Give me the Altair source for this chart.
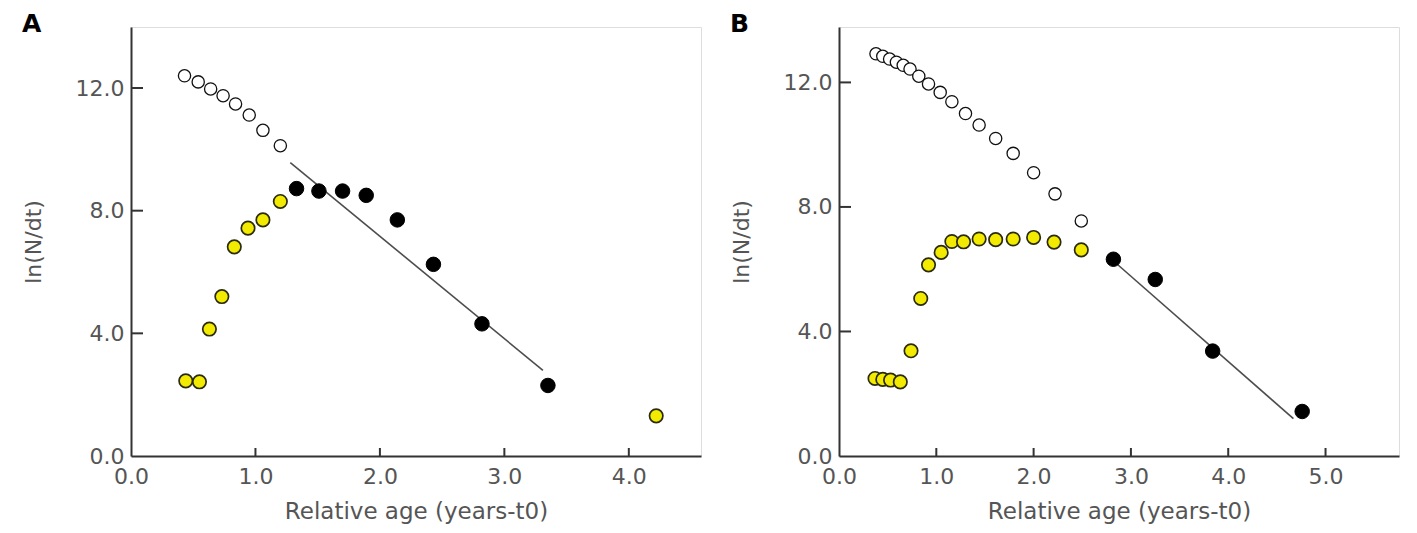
import altair as alt
import pandas as pd

# ---------------- Panel A data ----------------
a_open_x = [0.43, 0.54, 0.64, 0.74, 0.84, 0.95, 1.06, 1.20]
a_open_y = [12.40, 12.20, 11.97, 11.75, 11.48, 11.12, 10.62, 10.12]
a_yellow_x = [0.44, 0.55, 0.63, 0.73, 0.83, 0.94, 1.06, 1.20, 4.22]
a_yellow_y = [2.45, 2.42, 4.14, 5.20, 6.82, 7.43, 7.70, 8.30, 1.31]
a_black_x = [1.33, 1.51, 1.70, 1.89, 2.14, 2.43, 2.82, 3.35]
a_black_y = [8.72, 8.64, 8.64, 8.50, 7.70, 6.25, 4.31, 2.30]
a_line_x = [1.28, 3.31]
a_line_y = [9.57, 2.79]
a_xticks = [0, 1, 2, 3, 4]

# ---------------- Panel B data ----------------
b_open_x = [0.38, 0.45, 0.52, 0.59, 0.66, 0.73, 0.82, 0.92, 1.04, 1.16, 1.30,
            1.44, 1.61, 1.79, 2.00, 2.22, 2.49]
b_open_y = [12.92, 12.84, 12.75, 12.65, 12.55, 12.43, 12.20, 11.95, 11.68, 11.38,
            11.00, 10.63, 10.20, 9.72, 9.10, 8.42, 7.55]
b_yellow_x = [0.37, 0.45, 0.53, 0.63, 0.74, 0.84, 0.92, 1.05, 1.16, 1.28, 1.44,
              1.61, 1.79, 2.00, 2.21, 2.49]
b_yellow_y = [2.49, 2.46, 2.44, 2.38, 3.38, 5.06, 6.14, 6.54, 6.89, 6.88, 6.97,
              6.95, 6.97, 7.02, 6.87, 6.62]
b_black_x = [2.82, 3.25, 3.84, 4.76]
b_black_y = [6.32, 5.67, 3.37, 1.43]
b_line_x = [2.83, 4.67]
b_line_y = [6.24, 1.20]
b_xticks = [0, 1, 2, 3, 4, 5]

y_ticks = [0, 4, 8, 12]

FONT = "DejaVu Sans"
H = 429
TXT = "#555555"


def panel(label, ox, oy, yx, yy, bx, by, lx, ly, xticks, xmax, ymax, width):
    xs = alt.Scale(domain=[0, xmax], nice=False, zero=False)
    ys = alt.Scale(domain=[0, ymax], nice=False, zero=False)
    xax = alt.Axis(values=xticks, format=".1f", title="Relative age (years-t0)",
                   grid=False, ticks=False, tickSize=0, labelPadding=10,
                   labelFont=FONT, labelFontSize=22, labelColor=TXT,
                   labelFlush=False, labelOverlap=False,
                   titleFont=FONT, titleFontSize=23, titleColor=TXT,
                   titleFontWeight="normal", titlePadding=13.5,
                   domainColor="#333333", domainWidth=2)
    yax = alt.Axis(values=y_ticks, format=".1f", title="ln(N/dt)",
                   grid=False, ticks=False, tickSize=0, labelPadding=7,
                   labelFont=FONT, labelFontSize=22, labelColor=TXT,
                   labelFlush=False, labelOverlap=False,
                   titleFont=FONT, titleFontSize=22, titleColor=TXT,
                   titleFontWeight="normal", titlePadding=30,
                   domainColor="#333333", domainWidth=2)
    X = alt.X("x:Q", scale=xs, axis=xax)
    Y = alt.Y("y:Q", scale=ys, axis=yax)

    df_open = pd.DataFrame({"x": ox, "y": oy})
    df_yel = pd.DataFrame({"x": yx, "y": yy})
    df_blk = pd.DataFrame({"x": bx, "y": by})
    df_line = pd.DataFrame({"x": lx, "y": ly})
    df_xt = pd.DataFrame({"x": [v for v in xticks if v > 0]})
    df_yt = pd.DataFrame({"y": [v for v in y_ticks if v > 0]})

    xtick = alt.Chart(df_xt).mark_rule(color="#333333", strokeWidth=2).encode(
        x=X, y=alt.value(H), y2=alt.value(H - 8))
    ytick = alt.Chart(df_yt).mark_rule(color="#333333", strokeWidth=2).encode(
        y=Y, x=alt.value(0), x2=alt.value(12))
    line = alt.Chart(df_line).mark_line(color="#4d4d4d", strokeWidth=1.6).encode(x=X, y=Y)
    opn = alt.Chart(df_open).mark_point(shape="circle", filled=True, fill="white",
                                        stroke="#111111", strokeWidth=1.3,
                                        size=150, opacity=1).encode(x=X, y=Y)
    yel = alt.Chart(df_yel).mark_point(shape="circle", filled=True, fill="#f2ea00",
                                       stroke="#2a2a10", strokeWidth=1.7,
                                       size=180, opacity=1).encode(x=X, y=Y)
    blk = alt.Chart(df_blk).mark_point(shape="circle", filled=True, fill="#000000",
                                       stroke="#000000", strokeWidth=1,
                                       size=210, opacity=1).encode(x=X, y=Y)
    return alt.layer(xtick, ytick, line, opn, yel, blk).properties(
        width=width, height=H,
        title=alt.TitleParams(label, anchor="start", frame="bounds", font=FONT,
                              fontSize=25, fontWeight="bold", color="black",
                              offset=-5, dy=5))


pa = panel("A", a_open_x, a_open_y, a_yellow_x, a_yellow_y, a_black_x, a_black_y,
           a_line_x, a_line_y, a_xticks, 4.58, 13.99, 570)
pb = panel("B", b_open_x, b_open_y, b_yellow_x, b_yellow_y, b_black_x, b_black_y,
           b_line_x, b_line_y, b_xticks, 5.755, 13.78, 560)

chart = alt.hconcat(pa, pb, spacing=27).properties(
    padding={"left": 13, "top": 3, "right": 0, "bottom": 0}
).configure_view(stroke=None).configure(background="white")

chart.save("out.html", embed_options={"renderer": "svg", "actions": False})
